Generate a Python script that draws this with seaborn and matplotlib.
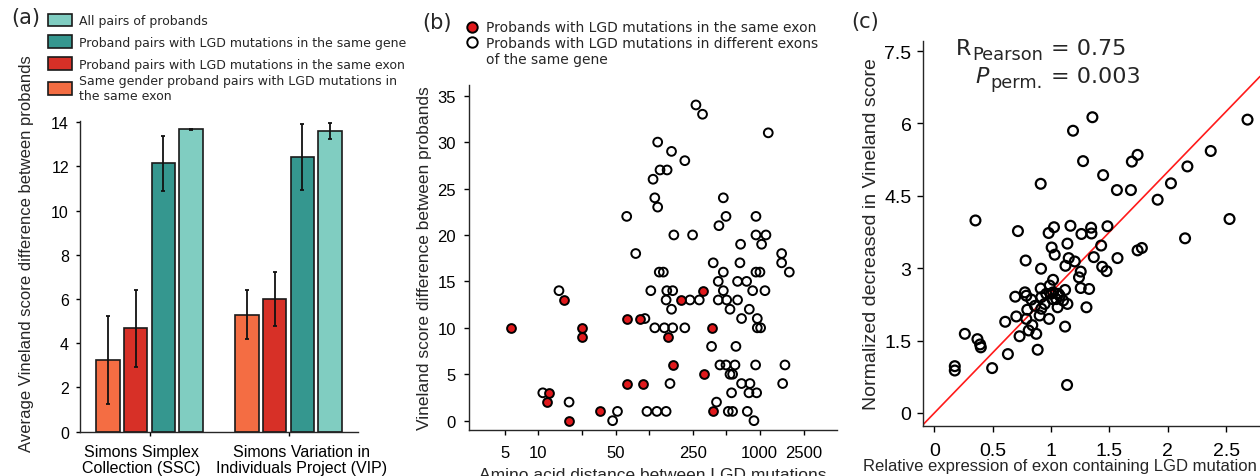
import numpy as np
import pandas as pd
import matplotlib
matplotlib.use("Agg")
import matplotlib.pyplot as plt
import seaborn as sns
from matplotlib.patches import Patch
from matplotlib.lines import Line2D
from matplotlib.ticker import NullLocator
from matplotlib.transforms import ScaledTranslation

# ---------------- Panel (a) data ----------------
cohorts = ["Simons Simplex\nCollection (SSC)", "Simons Variation in\nIndividuals Project (VIP)"]
pair_groups = ["Same gender proband pairs with LGD mutations in\nthe same exon",
               "Proband pairs with LGD mutations in the same exon",
               "Proband pairs with LGD mutations in the same gene",
               "All pairs of probands"]
bar_colors = ["#f46d43", "#d73027", "#35978f", "#80cdc1"]
ssc_mean = [3.26, 4.68, 12.14, 13.67]
vip_mean = [5.29, 6.00, 12.44, 13.60]
ssc_low = [1.25, 2.91, 10.90, 13.63]
vip_low = [4.19, 4.80, 10.95, 13.24]
ssc_high = [5.22, 6.43, 13.35, 13.71]
vip_high = [6.41, 7.24, 13.92, 13.97]
a_yticks = [0, 2, 4, 6, 8, 10, 12, 14]

# ---------------- Panel (b) data ----------------
same_exon_dist = [5.7, 17, 25, 25, 12.5, 12, 19, 36, 63, 64, 83, 89, 150, 164, 193, 310, 314, 373, 376]
same_exon_diff = [10, 13, 10, 9, 3, 2, 0, 1, 11, 4, 11, 4, 9, 6, 13, 14, 5, 10, 1]
diff_exon_dist = [11.0, 15.4, 19, 47, 52, 63, 76, 92, 96, 104, 109, 113, 120, 120, 113, 118, 126, 146,
                  124, 135, 145, 164, 143, 160, 138, 164, 143, 155, 160, 168, 211, 211, 235, 248, 266,
                  305, 285, 368, 381, 408, 423, 423, 429, 438, 470, 470, 470, 497, 497, 504, 521, 540,
                  540, 570, 558, 570, 599, 611, 632, 632, 664, 673, 687, 687, 763, 774, 807, 818, 801,
                  865, 889, 920, 927, 927, 927, 953, 940, 953, 1007, 1021, 1042, 1117, 1141, 1197,
                  1581, 1581, 1615, 1694, 1854]
diff_exon_diff = [3, 14, 2, 0, 1, 22, 18, 11, 1, 14, 26, 24, 23, 30, 10, 1, 27, 27,
                  16, 16, 14, 14, 13, 12, 10, 10, 1, 4, 29, 20, 28, 10, 13, 20, 34,
                  33, 13, 8, 17, 2, 15, 13, 21, 6, 24, 16, 14, 22, 6, 13, 1, 12,
                  5, 5, 3, 1, 6, 8, 13, 15, 17, 19, 11, 4, 15, 1, 12, 4, 3,
                  14, 0, 6, 22, 20, 16, 11, 3, 10, 16, 10, 19, 14, 20, 31,
                  18, 17, 4, 6, 16]
b_xticks = [5, 10, 25, 50, 100, 250, 500, 1000, 2500]
b_xticklabels = ["5", "10", "", "50", "", "250", "", "1000", "2500"]
b_yticks = [0, 5, 10, 15, 20, 25, 30, 35]

# ---------------- Panel (c) data ----------------
rel_expr = [1.354, 1.188, 2.683, 1.741, 1.692, 1.274, 1.446, 2.368, 2.168, 2.027, 1.913, 1.564,
            1.684, 0.911, 0.352, 2.529, 0.716, 1.025, 0.979, 1.166, 1.260, 1.343, 1.346, 1.483,
            2.148, 1.140, 1.429, 1.005, 1.031, 1.741, 1.778, 0.782, 1.151, 1.203, 1.123, 1.366,
            1.569, 0.914, 1.254, 1.239, 1.438, 1.475, 1.017, 1.254, 1.326, 0.693, 0.776, 0.788,
            0.911, 0.988, 1.120, 0.831, 0.916, 0.959, 1.017, 1.074, 1.045, 0.945, 1.011, 1.103,
            1.140, 1.056, 0.916, 1.303, 0.796, 0.702, 0.788, 0.902, 0.982, 0.607, 0.839, 0.808,
            0.873, 0.730, 1.120, 0.261, 0.369, 0.398, 0.392, 0.885, 0.630, 0.495, 0.175, 0.175,
            1.137, 0.999, 1.062, 0.862]
vineland_drop = [6.13, 5.85, 6.08, 5.35, 5.21, 5.22, 4.93, 5.43, 5.11, 4.76, 4.42, 4.62,
                 4.62, 4.75, 3.99, 4.02, 3.77, 3.85, 3.73, 3.88, 3.71, 3.84, 3.72, 3.87,
                 3.62, 3.51, 3.47, 3.43, 3.28, 3.37, 3.42, 3.16, 3.21, 3.14, 3.05, 3.23,
                 3.21, 2.99, 2.93, 2.81, 3.03, 2.94, 2.76, 2.59, 2.57, 2.41, 2.50, 2.43,
                 2.58, 2.64, 2.55, 2.35, 2.40, 2.47, 2.50, 2.43, 2.36, 2.26, 2.36, 2.33,
                 2.26, 2.19, 2.16, 2.19, 2.14, 2.00, 1.95, 2.02, 1.95, 1.89, 1.82, 1.71,
                 1.64, 1.59, 1.79, 1.64, 1.53, 1.36, 1.42, 1.31, 1.22, 0.93, 0.97, 0.88,
                 0.58, 2.47, 2.47, 2.22]
fit_slope = 2.5
fit_intercept = 0.0
c_xticks = [0, 0.5, 1, 1.5, 2, 2.5]
c_xticklabels = ["0", "0.5", "1", "1.5", "2", "2.5"]
c_yticks = [0, 1.5, 3, 4.5, 6, 7.5]
c_yticklabels = ["0", "1.5", "3", "4.5", "6", "7.5"]
r_value_text = "= 0.75"
p_value_text = "= 0.003"

# ---------------- Style ----------------
sns.set_style("ticks")
plt.rcParams["font.family"] = ["Liberation Sans", "DejaVu Sans"]
plt.rcParams["axes.linewidth"] = 1.0
plt.rcParams["xtick.major.width"] = 1.0
plt.rcParams["ytick.major.width"] = 1.0

W, H = 1260, 477
fig = plt.figure(figsize=(W / 100, H / 100), dpi=100)


def box(l, t, r, b):
    return [l / W, 1 - b / H, (r - l) / W, (b - t) / H]


# ================= Panel (a) =================
axa = fig.add_axes(box(80, 122, 358, 432.7))
df_a = pd.DataFrame({
    "cohort": np.repeat(cohorts, len(pair_groups)),
    "group": pair_groups * len(cohorts),
    "mean": ssc_mean + vip_mean,
    "low": ssc_low + vip_low,
    "high": ssc_high + vip_high,
})
sns.barplot(data=df_a, x="cohort", y="mean", hue="group", order=cohorts,
            hue_order=pair_groups, palette=bar_colors, saturation=1,
            width=0.8, gap=0.15, edgecolor="#1a1a1a", linewidth=1.2,
            errorbar=None, legend=False, ax=axa)
for g, cont in zip(pair_groups, axa.containers):
    for c, bar in zip(cohorts, cont):
        row = df_a[(df_a["cohort"] == c) & (df_a["group"] == g)].iloc[0]
        cx = bar.get_x() + bar.get_width() / 2
        axa.errorbar(cx, row["mean"], yerr=[[row["mean"] - row["low"]], [row["high"] - row["mean"]]],
                     fmt="none", ecolor="#111111", elinewidth=1.3, capsize=1.2, capthick=1.3, zorder=5)
axa.set_xlim(-0.5, 1.5)
axa.set_ylim(0, 14.05)
axa.set_yticks(a_yticks)
axa.set_xlabel("")
axa.set_ylabel("Average Vineland score difference between probands", fontsize=12)
axa.yaxis.set_label_coords(-0.165, 0.575)
axa.tick_params(axis="both", length=3, labelsize=11.5, colors="black")
axa.tick_params(axis="y", pad=5)
axa.tick_params(axis="x", pad=6)
sns.despine(ax=axa)
offsets = [-8.5, 13.0]
for lbl, dx in zip(axa.get_xticklabels(), offsets):
    lbl.set_linespacing(1.05)
    lbl.set_transform(lbl.get_transform() + ScaledTranslation(dx / 100, 0, fig.dpi_scale_trans))

handles_a = [Patch(facecolor=col, edgecolor="#1a1a1a", linewidth=1.2) for col in bar_colors[::-1]]
labels_a = pair_groups[::-1]
leg_kw = dict(bbox_transform=fig.transFigure, frameon=False,
              prop={"family": "DejaVu Sans", "size": 9},
              handlelength=1.95, handleheight=1.2, handletextpad=0.5,
              borderpad=0, borderaxespad=0, loc="upper left")
leg1 = axa.legend(handles_a[:3], labels_a[:3], bbox_to_anchor=(48 / W, 1 - 14.5 / H),
                  labelspacing=0.66, **leg_kw)
axa.add_artist(leg1)
axa.legend(handles_a[3:], labels_a[3:], bbox_to_anchor=(48 / W, 1 - 75 / H), **leg_kw)

# ================= Panel (b) =================
axb = fig.add_axes(box(469, 86, 836.7, 430.5))
sns.scatterplot(x=diff_exon_dist, y=diff_exon_diff, ax=axb, facecolor="none",
                edgecolor="black", linewidth=1.4, s=40, zorder=3)
sns.scatterplot(x=same_exon_dist, y=same_exon_diff, ax=axb, color="#e0191c",
                edgecolor="black", linewidth=1.4, s=40, zorder=4)
axb.set_xscale("log")
axb.set_xlim(2.37, 4970)
axb.set_ylim(-0.95, 36.15)
axb.set_xticks(b_xticks)
axb.set_xticklabels(b_xticklabels)
axb.xaxis.set_minor_locator(NullLocator())
axb.set_yticks(b_yticks)
axb.tick_params(axis="both", length=3.5, labelsize=12, colors="black")
axb.tick_params(axis="x", pad=8)
axb.tick_params(axis="y", pad=6)
axb.set_ylabel("Vineland score difference between probands", fontsize=12.5, labelpad=4)
axb.set_xlabel("Amino acid distance between LGD mutations", fontsize=12.5, labelpad=5)
sns.despine(ax=axb)

handles_b = [Line2D([], [], ls="", marker="o", markerfacecolor="#e0191c", markeredgecolor="black",
                    markeredgewidth=1.4, markersize=7.5),
             Line2D([], [], ls="", marker="o", markerfacecolor="none", markeredgecolor="black",
                    markeredgewidth=1.4, markersize=7.5),
             Line2D([], [], ls="", marker="")]
labels_b = ["Probands with LGD mutations in the same exon",
            "Probands with LGD mutations in different exons",
            "of the same gene"]
axb.legend(handles_b, labels_b, loc="upper left",
           bbox_to_anchor=(465 / W, 1 - 21.5 / H), bbox_transform=fig.transFigure,
           frameon=False, prop={"family": "DejaVu Sans", "size": 10},
           handlelength=1.0, handletextpad=0.5, labelspacing=0.11,
           borderpad=0, borderaxespad=0)

# ================= Panel (c) =================
axc = fig.add_axes(box(922.7, 42, 1260, 426.5))
sns.scatterplot(x=rel_expr, y=vineland_drop, ax=axc, facecolor="none",
                edgecolor="black", linewidth=1.6, s=50, zorder=3)
axc.axline((0, fit_intercept), slope=fit_slope, color="#ff1a1a", lw=1.2, zorder=2)
axc.set_xlim(-0.10, 2.79)
axc.set_ylim(-0.26, 7.71)
axc.set_xticks(c_xticks)
axc.set_xticklabels(c_xticklabels)
axc.set_yticks(c_yticks)
axc.set_yticklabels(c_yticklabels)
axc.tick_params(axis="both", length=4, labelsize=14, colors="black")
axc.tick_params(axis="x", pad=8)
axc.tick_params(axis="y", pad=4)
axc.set_ylabel("Normalized decreased in Vineland score", fontsize=14, labelpad=3)
axc.set_xlabel("Relative expression of exon containing LGD mutation", fontsize=12,
               ha="right", va="top")
axc.xaxis.set_label_coords(0.99, -0.085)
sns.despine(ax=axc)

dv = "DejaVu Sans"
fig.text(971 / W, 1 - 55 / H, "R", ha="right", va="baseline", family=dv, size=16)
fig.text(1043 / W, 1 - 60 / H, "Pearson", ha="right", va="baseline", family=dv, size=12.8)
fig.text(1051 / W, 1 - 55 / H, r_value_text, ha="left", va="baseline", family=dv, size=16)
fig.text(989 / W, 1 - 83 / H, "P", ha="right", va="baseline", family=dv, size=16, style="italic")
fig.text(1043 / W, 1 - 88 / H, "perm.", ha="right", va="baseline", family=dv, size=12.8)
fig.text(1051 / W, 1 - 83 / H, p_value_text, ha="left", va="baseline", family=dv, size=16)

# panel letters
for x, y, t in [(11.7, 18, "(a)"), (422.7, 23, "(b)"), (851.7, 22, "(c)")]:
    fig.text(x / W, 1 - y / H, t, fontsize=15, ha="left", va="center", family=dv)

fig.savefig("out.png", dpi=100)
